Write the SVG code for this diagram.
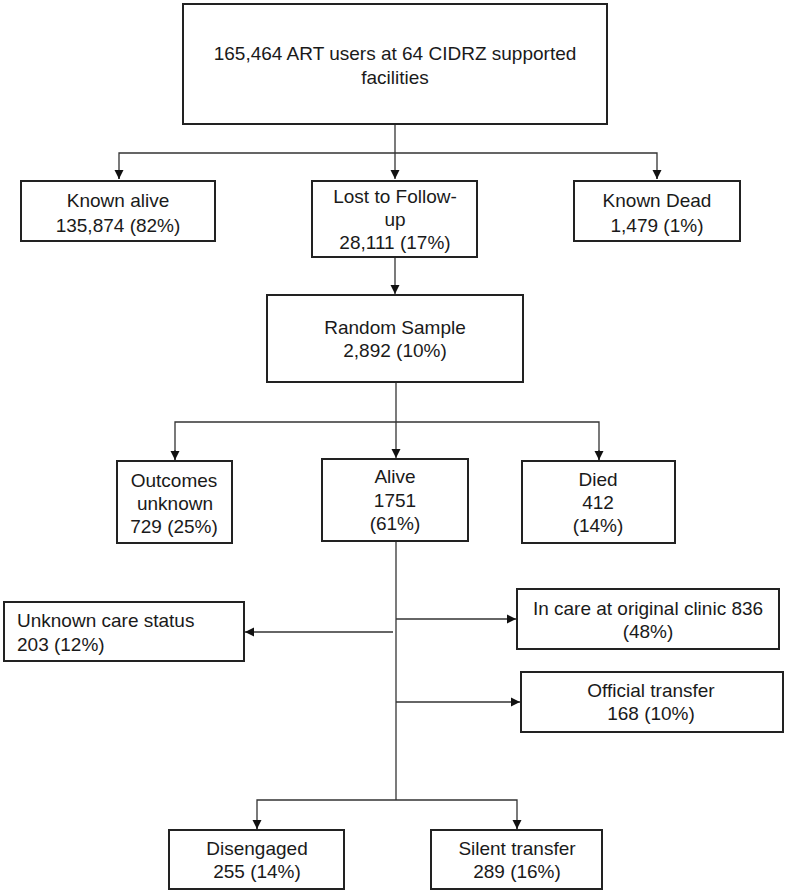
<svg xmlns="http://www.w3.org/2000/svg" width="788" height="894" viewBox="0 0 788 894">
<style>
.box{fill:#fff;stroke:#222;stroke-width:2}
.c{fill:none;stroke:#333;stroke-width:1.3}
text{font-family:"Liberation Sans",Arial,sans-serif;font-size:19px;fill:#1a1a1a}
.m{text-anchor:middle}
</style>
<defs>
<marker id="ah" markerWidth="10" markerHeight="10" refX="9" refY="5" orient="auto" markerUnits="userSpaceOnUse">
<path d="M0,0.5 L9,5 L0,9.5 Z" fill="#111"/>
</marker>
</defs>
<rect width="788" height="894" fill="#fff"/>
<g id="connectors">
<line class="c" x1="395" y1="124" x2="395" y2="179" marker-end="url(#ah)"/>
<polyline class="c" points="119,179 119,153 657,153 657,179" />
<line class="c" x1="119" y1="170" x2="119" y2="179" marker-end="url(#ah)"/>
<line class="c" x1="657" y1="170" x2="657" y2="179" marker-end="url(#ah)"/>
<line class="c" x1="395" y1="257" x2="395" y2="294" marker-end="url(#ah)"/>
<line class="c" x1="396" y1="382" x2="396" y2="458" marker-end="url(#ah)"/>
<polyline class="c" points="175,460 175,422 599,422 599,460"/>
<line class="c" x1="175" y1="450" x2="175" y2="460" marker-end="url(#ah)"/>
<line class="c" x1="599" y1="450" x2="599" y2="460" marker-end="url(#ah)"/>
<line class="c" x1="396" y1="541" x2="396" y2="800" stroke-width="1.8"/>
<line class="c" x1="393" y1="632" x2="245" y2="632" marker-end="url(#ah)"/>
<line class="c" x1="396" y1="619" x2="516" y2="619" marker-end="url(#ah)"/>
<line class="c" x1="396" y1="702" x2="520" y2="702" marker-end="url(#ah)"/>
<polyline class="c" points="257,829 257,800 517,800 517,829"/>
<line class="c" x1="257" y1="820" x2="257" y2="829" marker-end="url(#ah)"/>
<line class="c" x1="517" y1="820" x2="517" y2="829" marker-end="url(#ah)"/>
</g>
<g id="top">
<rect class="box" x="183" y="4" width="424" height="120"/>
<text class="m" x="395" y="60">165,464 ART users at 64 CIDRZ supported</text>
<text class="m" x="395" y="84">facilities</text>
</g>
<g id="known-alive">
<rect class="box" x="21" y="181" width="194" height="60"/>
<text class="m" x="118" y="207">Known alive</text>
<text class="m" x="118" y="232">135,874 (82%)</text>
</g>
<g id="ltfu">
<rect class="box" x="312" y="181" width="165" height="76"/>
<text class="m" x="395" y="203">Lost to Follow-</text>
<text class="m" x="395" y="226">up</text>
<text class="m" x="395" y="249">28,111 (17%)</text>
</g>
<g id="known-dead">
<rect class="box" x="574" y="181" width="166" height="60"/>
<text class="m" x="657" y="207">Known Dead</text>
<text class="m" x="657" y="232">1,479 (1%)</text>
</g>
<g id="random-sample">
<rect class="box" x="267" y="295" width="256" height="87"/>
<text class="m" x="395" y="334">Random Sample</text>
<text class="m" x="395" y="357">2,892 (10%)</text>
</g>
<g id="outcomes-unknown">
<rect class="box" x="117" y="461" width="115" height="82"/>
<text class="m" x="174" y="487">Outcomes</text>
<text class="m" x="175" y="510">unknown</text>
<text class="m" x="174" y="533">729 (25%)</text>
</g>
<g id="alive">
<rect class="box" x="322" y="459" width="146" height="82"/>
<text class="m" x="395" y="483">Alive</text>
<text class="m" x="395" y="507">1751</text>
<text class="m" x="395" y="530">(61%)</text>
</g>
<g id="died">
<rect class="box" x="522" y="461" width="153" height="82"/>
<text class="m" x="598" y="486">Died</text>
<text class="m" x="598" y="509">412</text>
<text class="m" x="598" y="532">(14%)</text>
</g>
<g id="unknown-care">
<rect class="box" x="4" y="602" width="240" height="59"/>
<text x="17" y="627">Unknown care status</text>
<text x="17" y="651">203 (12%)</text>
</g>
<g id="in-care">
<rect class="box" x="517" y="589" width="262" height="60"/>
<text class="m" x="648" y="615">In care at original clinic 836</text>
<text class="m" x="648" y="638">(48%)</text>
</g>
<g id="official-transfer">
<rect class="box" x="521" y="672" width="262" height="60"/>
<text class="m" x="651" y="697">Official transfer</text>
<text class="m" x="651" y="720">168 (10%)</text>
</g>
<g id="disengaged">
<rect class="box" x="169" y="830" width="175" height="59"/>
<text class="m" x="257" y="855">Disengaged</text>
<text class="m" x="257" y="878">255 (14%)</text>
</g>
<g id="silent-transfer">
<rect class="box" x="431" y="830" width="171" height="59"/>
<text class="m" x="517" y="855">Silent transfer</text>
<text class="m" x="517" y="878">289 (16%)</text>
</g>
</svg>
